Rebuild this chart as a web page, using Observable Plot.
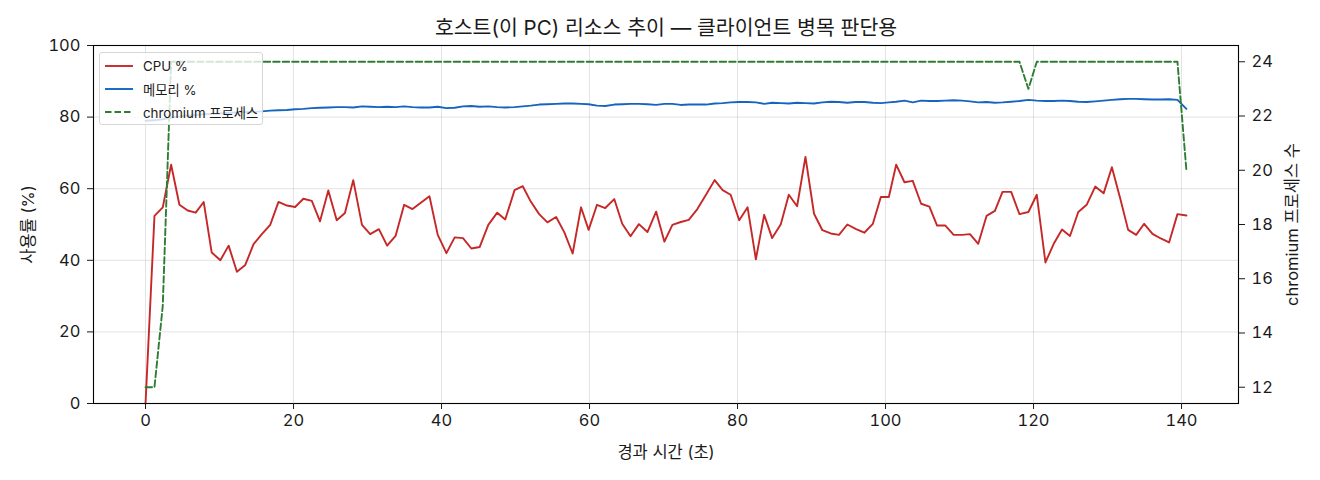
<!DOCTYPE html>
<html>
<head>
<meta charset="utf-8">
<script src="https://cdn.jsdelivr.net/npm/d3@7"></script>
<script src="https://cdn.jsdelivr.net/npm/@observablehq/plot@0.6"></script>
<style>
  body { margin: 0; background: #fff; }
  #wrap { position: relative; width: 1320px; height: 480px; font-family: Inter, "Noto Sans CJK KR", sans-serif; }
  #legend { position: absolute; left: 99px; top: 52px; width: 164px; height: 73px; box-sizing: border-box;
    background: rgba(255,255,255,0.8); border: 1px solid #d6d6d6; border-radius: 3px; font-size: 13.3px; color: #1a1a1a; }
  .row { position: absolute; left: 5px; height: 16px; display: flex; align-items: center; white-space: nowrap; }
  .row svg { width: 30px; height: 10px; margin-right: 8px; }
</style>
</head>
<body>
<div id="wrap"></div>
<script>
// elapsed time (s)
const time = [
  0.00,1.21,2.33,3.46,4.58,5.70,6.78,7.86,8.94,10.11,11.23,12.35,13.48,14.60,15.72,16.85,17.97,19.10,20.22,21.33,22.47,23.58,24.70,25.84,26.95,28.07,
  29.25,30.36,31.54,32.65,33.79,34.95,36.08,37.20,38.37,39.49,40.66,41.78,42.90,44.03,45.15,46.32,47.53,48.61,49.87,50.98,52.06,53.19,54.31,55.49,
  56.60,57.72,58.85,59.88,61.01,62.13,63.34,64.42,65.54,66.67,67.83,69.00,70.12,71.20,72.33,73.41,74.57,75.74,76.91,77.99,79.07,80.23,81.36,82.48,83.60,84.68,
  85.85,86.93,88.05,89.18,90.34,91.47,92.59,93.71,94.84,95.96,97.13,98.29,99.37,100.45,101.44,102.56,103.68,104.81,105.93,106.97,108.09,109.21,110.34,111.41,112.53,
  113.65,114.78,115.81,116.98,118.10,119.31,120.44,121.61,122.73,123.85,124.93,126.05,127.18,128.34,129.47,130.59,131.71,132.79,133.87,134.95,136.08,137.20,138.32,139.45,140.66
];
// CPU %
const cpu = [
  0,52.4,54.8,66.7,55.5,53.9,53.3,56.3,42.2,40.0,44.1,36.8,38.7,44.5,47.3,49.9,56.3,55.3,54.9,57.2,56.6,50.9,59.5,51.2,53.2,62.4,
  49.9,47.3,48.7,44.1,46.8,55.5,54.3,56.1,57.9,47.1,42.0,46.4,46.2,43.3,43.7,49.9,53.3,51.4,59.6,60.7,56.4,52.9,50.6,52.1,
  47.8,41.9,54.8,48.5,55.5,54.6,57.1,50.2,46.7,50.1,47.9,53.6,45.2,49.9,50.7,51.3,54.3,58.3,62.4,59.6,58.3,51.2,54.8,40.3,52.7,46.2,
  50.1,58.3,55.1,68.9,53.0,48.4,47.5,47.1,50.0,48.8,47.7,50.2,57.7,57.7,66.7,61.8,62.2,55.8,55.0,49.7,49.7,47.1,47.1,47.3,44.6,
  52.4,53.8,59.1,59.1,52.9,53.5,58.3,39.4,44.6,48.6,46.8,53.5,55.5,60.6,58.7,66.0,57.3,48.5,47.1,50.2,47.4,46.1,45.0,52.9,52.5
];
// memory %
const mem = [
  79.0,79.1,79.4,79.9,80.2,80.4,80.6,80.8,80.9,81.0,81.2,81.3,81.4,81.5,81.6,81.8,81.9,82.0,82.2,82.3,82.5,82.6,82.7,82.8,82.8,82.7,
  83.0,82.9,82.8,82.9,82.8,83.0,82.8,82.7,82.7,82.9,82.5,82.6,83.0,83.1,82.9,83.0,82.8,82.7,82.8,83.0,83.2,83.5,83.6,83.7,
  83.8,83.8,83.7,83.6,83.2,83.1,83.5,83.6,83.7,83.7,83.6,83.4,83.7,83.7,83.4,83.5,83.5,83.5,83.8,83.9,84.1,84.2,84.2,84.1,83.7,84.0,
  83.9,83.8,84.0,83.9,83.8,84.1,84.3,84.2,84.0,84.2,84.2,84.0,83.9,84.1,84.3,84.6,84.1,84.6,84.5,84.5,84.6,84.7,84.6,84.4,84.1,
  84.2,84.0,84.1,84.3,84.5,84.8,84.6,84.5,84.5,84.6,84.5,84.3,84.2,84.4,84.6,84.8,85.0,85.1,85.1,85.0,84.9,84.9,85.0,84.8,82.3
];
// chromium process count
const proc = [
  12,12,15,
  24,24,24,24,24,24,24,24,24,24,
  24,24,24,24,24,24,24,24,24,24,
  24,24,24,24,24,24,24,24,24,24,
  24,24,24,24,24,24,24,24,24,24,
  24,24,24,24,24,24,24,24,24,24,
  24,24,24,24,24,24,24,24,24,24,
  24,24,24,24,24,24,24,24,24,24,
  24,24,24,24,24,24,24,24,24,24,
  24,24,24,24,24,24,24,24,24,24,
  24,24,24,24,24,24,24,24,24,24,
  24,24,24,
  23,
  24,24,24,24,24,24,24,24,24,24,
  24,24,24,24,24,24,24,24,
  20
];
const xTicks = [0, 20, 40, 60, 80, 100, 120, 140];
const yTicks = [0, 20, 40, 60, 80, 100];
const procTicks = [12, 14, 16, 18, 20, 22, 24];

const title = "호스트(이 PC) 리소스 추이 — 클라이언트 병목 판단용";
const xLabel = "경과 시간 (초)";
const yLabel = "사용률 (%)";
const y2Label = "chromium 프로세스 수";
const seriesNames = ["CPU %", "메모리 %", "chromium 프로세스"];
const colors = ["#c62828", "#1565c0", "#2e7d32"];

const rows = time.map((t, i) => ({t, cpu: cpu[i], mem: mem[i], proc: proc[i]}));
const toLeft = d3.scaleLinear([11.4, 24.6], [0, 100]);
const FS = 16.5;

const chart = Plot.plot({
  width: 1320,
  height: 480,
  marginLeft: 93,
  marginRight: 82,
  marginTop: 45,
  marginBottom: 77,
  style: {fontFamily: 'Inter, "Noto Sans CJK KR", sans-serif', fontSize: FS + "px", color: "#1a1a1a", background: "white"},
  x: {domain: [-7.03, 147.7]},
  y: {domain: [0, 100]},
  marks: [
    Plot.gridX(xTicks, {stroke: "#b0b0b0", strokeOpacity: 0.35}),
    Plot.gridY(yTicks, {stroke: "#b0b0b0", strokeOpacity: 0.35}),
    Plot.line(rows, {x: "t", y: "cpu", stroke: colors[0], strokeWidth: 1.9}),
    Plot.line(rows, {x: "t", y: "mem", stroke: colors[1], strokeWidth: 1.9}),
    Plot.line(rows, {x: "t", y: d => toLeft(d.proc), stroke: colors[2], strokeWidth: 1.9, strokeDasharray: "6.5,3"}),
    Plot.frame({stroke: "black", strokeWidth: 1.1}),
    Plot.axisX(xTicks, {tickSize: 6, tickPadding: 5, label: null, fontSize: FS}),
    Plot.axisY(yTicks, {tickSize: 6, tickPadding: 7, label: null, fontSize: FS}),
    Plot.axisY(procTicks.map(v => toLeft(v)), {anchor: "right", tickSize: 6, tickPadding: 7, label: null, fontSize: FS,
      tickFormat: d => String(Math.round(toLeft.invert(d)))}),
    Plot.text([title], {frameAnchor: "top", dy: -17, fontSize: 20.5, textAnchor: "middle", lineAnchor: "middle", text: d => d}),
    Plot.text([xLabel], {frameAnchor: "bottom", dy: 49, fontSize: FS, textAnchor: "middle", lineAnchor: "middle", text: d => d}),
    Plot.text([yLabel], {frameAnchor: "left", dx: -65, rotate: -90, fontSize: FS, textAnchor: "middle", lineAnchor: "middle", text: d => d}),
    Plot.text([y2Label], {frameAnchor: "right", dx: 54, rotate: -90, fontSize: FS, textAnchor: "middle", lineAnchor: "middle", text: d => d})
  ]
});

const wrap = document.getElementById("wrap");
wrap.appendChild(chart);

const legend = document.createElement("div");
legend.id = "legend";
const rowTops = [5, 28, 51];
seriesNames.forEach((name, i) => {
  const r = document.createElement("div");
  r.className = "row";
  r.style.top = rowTops[i] + "px";
  const dash = i === 2 ? 'stroke-dasharray="6.5,3"' : "";
  r.innerHTML = `<svg viewBox="0 0 30 10"><line x1="0" x2="28" y1="5" y2="5" stroke="${colors[i]}" stroke-width="1.9" ${dash}/></svg><span>${name}</span>`;
  legend.appendChild(r);
});
wrap.appendChild(legend);
</script>
</body>
</html>
